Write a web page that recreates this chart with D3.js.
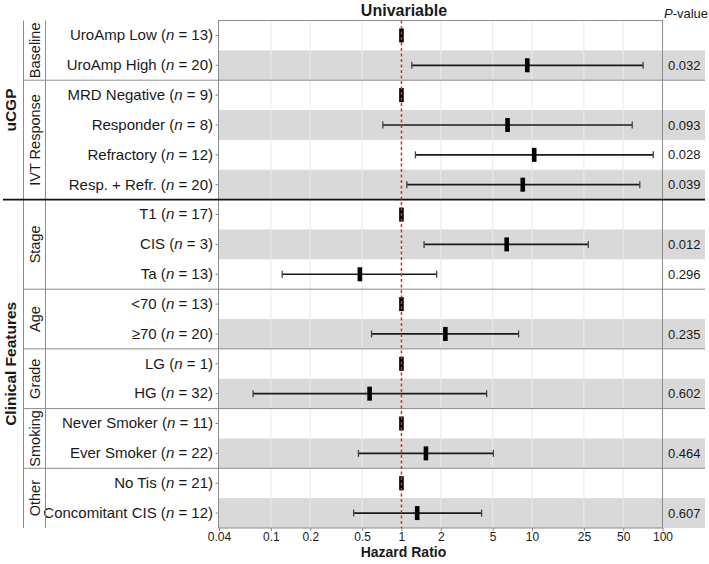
<!DOCTYPE html>
<html>
<head>
<meta charset="utf-8">
<script src="https://cdn.jsdelivr.net/npm/d3@7"></script>
<style>
  body { margin: 0; background: #fff; }
  svg text { font-family: "Liberation Sans", Arial, sans-serif; fill: #1a1a1a; }
</style>
</head>
<body>
<div id="chart"></div>
<script>
// rows, top to bottom
let rowGroup = ["uCGP", "uCGP", "uCGP", "uCGP", "uCGP", "uCGP",
    "Clinical Features", "Clinical Features", "Clinical Features", "Clinical Features", "Clinical Features",
    "Clinical Features", "Clinical Features", "Clinical Features", "Clinical Features", "Clinical Features", "Clinical Features"];
let rowSubgroup = ["Baseline", "Baseline", "IVT Response", "IVT Response", "IVT Response", "IVT Response",
    "Stage", "Stage", "Stage", "Age", "Age", "Grade", "Grade", "Smoking", "Smoking", "Other", "Other"];
let rowLabels = ["UroAmp Low", "UroAmp High", "MRD Negative", "Responder", "Refractory", "Resp. + Refr.",
    "T1", "CIS", "Ta", "<70", "≥70", "LG", "HG", "Never Smoker", "Ever Smoker", "No Tis", "Concomitant CIS"];
let rowN = [13, 20, 9, 8, 12, 20, 17, 3, 13, 13, 20, 1, 32, 11, 22, 21, 12];

// hazard ratios with 95% CI (reference rows have HR = 1 and no CI)
let hazard = [1, 9.2, 1, 6.5, 10.4, 8.5, 1, 6.4, 0.48, 1, 2.17, 1, 0.57, 1, 1.54, 1, 1.32];
let ciLow = [null, 1.2, null, 0.72, 1.28, 1.1, null, 1.49, 0.122, null, 0.59, null, 0.073, null, 0.468, null, 0.43];
let ciHigh = [null, 71, null, 58.6, 85, 67, null, 27, 1.86, null, 7.9, null, 4.5, null, 5.06, null, 4.11];
let pValues = ["", "0.032", "", "0.093", "0.028", "0.039", "", "0.012", "0.296", "", "0.235", "", "0.602", "", "0.464", "", "0.607"];

let xTicks = [0.04, 0.1, 0.2, 0.5, 1, 2, 5, 10, 25, 50, 100];

let width = 709;
let height = 564;
let plotLeft = 218.5, plotRight = 662.5, plotTop = 20.5, plotBottom = 528;
let outerLine = 23.5, innerLine = 45.5, tableRight = 705;

let svg = d3.select("#chart")
    .append("svg")
    .attr("width", width)
    .attr("height", height);

let rows = rowLabels.map((label, i) => {
    let first = rowSubgroup.indexOf(rowSubgroup[i]);
    return {
        idx: i,
        label: label,
        n: rowN[i],
        hr: hazard[i],
        lo: ciLow[i],
        hi: ciHigh[i],
        p: pValues[i],
        shaded: (i - first) % 2 === 1
    };
});

let xScale = d3.scaleLog()
    .domain([0.04, 100])
    .range([plotLeft + 0.5, plotRight]);

let yScale = d3.scaleBand()
    .domain(rows.map(d => d.idx))
    .range([plotTop, plotBottom]);

let bw = yScale.bandwidth();

// shaded rows (plot + p-value column)
svg.append("g")
    .selectAll("rect")
    .data(rows.filter(d => d.shaded))
    .enter()
    .append("rect")
    .attr("x", plotLeft)
    .attr("y", d => yScale(d.idx))
    .attr("width", tableRight - plotLeft)
    .attr("height", bw)
    .attr("fill", "#d9d9d9");

// vertical grid
svg.append("g")
    .selectAll("line")
    .data(xTicks.slice(1, -1))
    .enter()
    .append("line")
    .attr("x1", d => xScale(d))
    .attr("x2", d => xScale(d))
    .attr("y1", plotTop)
    .attr("y2", plotBottom)
    .attr("stroke", "#ebebeb")
    .attr("stroke-width", 1);

// x-axis
let xAxis = d3.axisBottom(xScale)
    .tickValues(xTicks)
    .tickFormat(d => d)
    .tickSize(3)
    .tickPadding(1);

let xg = svg.append("g")
    .attr("transform", "translate(0," + plotBottom + ")")
    .call(xAxis);
xg.select(".domain").remove();
xg.selectAll(".tick line").attr("stroke", "#888");
xg.selectAll("text")
    .attr("font-size", "12px")
    .attr("fill", "#222")
    .attr("font-family", "Liberation Sans, Arial, sans-serif");

svg.append("text")
    .attr("x", xScale(1) + 2)
    .attr("y", 557)
    .attr("text-anchor", "middle")
    .attr("font-size", "14px")
    .attr("font-weight", "bold")
    .text("Hazard Ratio");

// y-axis with row labels
let yAxis = d3.axisLeft(yScale)
    .tickFormat("")
    .tickSize(3)
    .tickPadding(4);

let yg = svg.append("g")
    .attr("transform", "translate(" + plotLeft + ",0)")
    .call(yAxis);
yg.select(".domain").remove();
yg.selectAll(".tick line").attr("stroke", "#888");
yg.selectAll(".tick").each(function (d) {
    let r = rows[d];
    let t = d3.select(this).select("text")
        .attr("font-size", "15px")
        .attr("fill", "#1a1a1a")
        .attr("font-family", "Liberation Sans, Arial, sans-serif")
        .attr("x", -5.5);
    t.append("tspan").text(r.label + " (");
    t.append("tspan").attr("font-style", "italic").text("n");
    t.append("tspan").text(" = " + r.n + ")");
});

// plot frame
svg.append("rect")
    .attr("x", plotLeft)
    .attr("y", plotTop)
    .attr("width", plotRight - plotLeft)
    .attr("height", plotBottom - plotTop)
    .attr("fill", "none")
    .attr("stroke", "#8c8c8c")
    .attr("stroke-width", 1);

// label column lines
[outerLine, innerLine].forEach(x => {
    svg.append("line")
        .attr("x1", x).attr("x2", x)
        .attr("y1", plotTop).attr("y2", plotBottom)
        .attr("stroke", "#8c8c8c")
        .attr("stroke-width", 1);
});

// subgroup separators and group separator
let subgroups = Array.from(new Set(rowSubgroup));
let groups = Array.from(new Set(rowGroup));
subgroups.forEach((s, k) => {
    if (k === 0) return;
    let first = rowSubgroup.indexOf(s);
    let y = yScale(first);
    let groupStart = rowGroup[first] !== rowGroup[first - 1];
    svg.append("line")
        .attr("x1", groupStart ? 3 : outerLine)
        .attr("x2", tableRight)
        .attr("y1", y).attr("y2", y)
        .attr("stroke", groupStart ? "#111" : "#8c8c8c")
        .attr("stroke-width", groupStart ? 1.6 : 1);
});

// subgroup labels
subgroups.forEach(s => {
    let first = rowSubgroup.indexOf(s);
    let last = rowSubgroup.lastIndexOf(s);
    let cy = (yScale(first) + yScale(last) + bw) / 2;
    svg.append("text")
        .attr("transform", "translate(" + ((outerLine + innerLine) / 2 + 5) + "," + cy + ") rotate(-90)")
        .attr("text-anchor", "middle")
        .attr("font-size", "14.5px")
        .text(s);
});

// group labels
groups.forEach(g => {
    let first = rowGroup.indexOf(g);
    let last = rowGroup.lastIndexOf(g);
    let cy = (yScale(first) + yScale(last) + bw) / 2;
    svg.append("text")
        .attr("transform", "translate(" + 16 + "," + cy + ") rotate(-90)")
        .attr("text-anchor", "middle")
        .attr("font-size", "15.5px")
        .attr("font-weight", "bold")
        .text(g);
});

// confidence intervals
let ciRows = rows.filter(d => d.lo !== null);
let ciG = svg.append("g");
ciG.selectAll(".ci")
    .data(ciRows)
    .enter()
    .append("line")
    .attr("x1", d => xScale(d.lo))
    .attr("x2", d => xScale(d.hi))
    .attr("y1", d => yScale(d.idx) + bw / 2)
    .attr("y2", d => yScale(d.idx) + bw / 2)
    .attr("stroke", "#1a1a1a")
    .attr("stroke-width", 1.7);

["lo", "hi"].forEach(k => {
    ciG.selectAll(".cap-" + k)
        .data(ciRows)
        .enter()
        .append("line")
        .attr("x1", d => xScale(d[k]))
        .attr("x2", d => xScale(d[k]))
        .attr("y1", d => yScale(d.idx) + bw / 2 - 3.5)
        .attr("y2", d => yScale(d.idx) + bw / 2 + 3.5)
        .attr("stroke", "#444")
        .attr("stroke-width", 1.3);
});

// point estimates
svg.append("g")
    .selectAll("rect")
    .data(rows)
    .enter()
    .append("rect")
    .attr("x", d => xScale(d.hr) - 2.3)
    .attr("y", d => yScale(d.idx) + bw / 2 - 7)
    .attr("width", 4.6)
    .attr("height", 14)
    .attr("fill", "#000");

// reference line at HR = 1
svg.append("line")
    .attr("x1", xScale(1))
    .attr("x2", xScale(1))
    .attr("y1", plotTop)
    .attr("y2", plotBottom)
    .attr("stroke", "#d3322a")
    .attr("stroke-width", 1.5)
    .attr("stroke-dasharray", "3,2.5");

// p-values
svg.append("g")
    .selectAll("text")
    .data(rows.filter(d => d.p !== ""))
    .enter()
    .append("text")
    .attr("x", 668)
    .attr("y", d => yScale(d.idx) + bw / 2)
    .attr("dy", "0.35em")
    .attr("font-size", "13px")
    .text(d => d.p);

let pHead = svg.append("text")
    .attr("x", 664)
    .attr("y", 18)
    .attr("font-size", "13px");
pHead.append("tspan").attr("font-style", "italic").text("P");
pHead.append("tspan").text("-value");

// title
svg.append("text")
    .attr("x", 404)
    .attr("y", 15.5)
    .attr("text-anchor", "middle")
    .attr("font-size", "16px")
    .attr("font-weight", "bold")
    .text("Univariable");
</script>
</body>
</html>
